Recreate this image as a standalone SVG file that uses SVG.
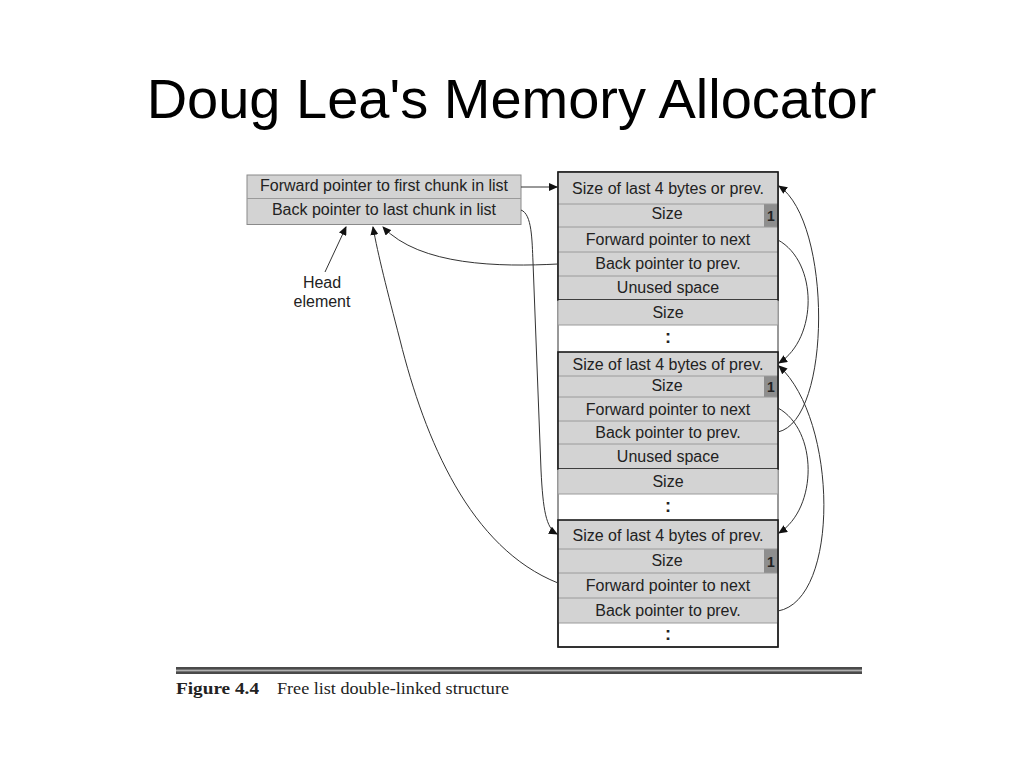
<svg xmlns="http://www.w3.org/2000/svg" width="1023" height="767" viewBox="0 0 1023 767">
<style>
.t{font-family:"Liberation Sans",Arial,sans-serif;fill:#222;}
.r{font-size:16px;text-anchor:middle;}
.g{fill:#d3d3d3;}
.sep{stroke:#9a9a9a;stroke-width:1;}
.box{fill:none;stroke:#1a1a1a;stroke-width:1.6;}
.one{fill:#8e8e8e;}
.n1{font-size:14px;font-weight:bold;text-anchor:middle;}
.c{fill:none;stroke:#333;stroke-width:1;}
.col{font-size:18px;font-weight:bold;text-anchor:middle;}
</style>
<defs>
<marker id="ah" markerWidth="9" markerHeight="8" refX="8" refY="4" orient="auto" markerUnits="userSpaceOnUse">
<path d="M0,0 L9,4 L0,8 Z" fill="#111"/>
</marker>
</defs>
<rect width="1023" height="767" fill="#fff"/>
<text class="t" x="511.5" y="118" font-size="56" text-anchor="middle" style="fill:#000">Doug Lea's Memory Allocator</text>

<g id="head">
<rect x="247" y="175" width="274" height="49.5" class="g" stroke="#8a8a8a" stroke-width="1"/>
<line x1="247" y1="198.5" x2="521" y2="198.5" class="sep"/>
<text class="t r" x="384" y="191">Forward pointer to first chunk in list</text>
<text class="t r" x="384" y="214.5">Back pointer to last chunk in list</text>
</g>
<g id="head-label">
<text class="t r" x="322" y="287.5">Head</text>
<text class="t r" x="322" y="307">element</text>
</g>

<g id="column">
<rect x="558" y="172" width="220" height="475" fill="#fff" stroke="#333" stroke-width="1"/>
</g>

<g id="chunk1">
<rect x="558" y="172" width="220" height="128" class="g"/>
<rect x="764" y="204" width="14" height="23" class="one"/>
<line x1="558" y1="204" x2="778" y2="204" class="sep"/>
<line x1="558" y1="227" x2="778" y2="227" class="sep"/>
<line x1="558" y1="252" x2="778" y2="252" class="sep"/>
<line x1="558" y1="276" x2="778" y2="276" class="sep"/>
<rect x="558" y="172" width="220" height="128" class="box"/>
<text class="t r" x="668" y="193.5">Size of last 4 bytes or prev.</text>
<text class="t r" x="667" y="219">Size</text>
<text class="t n1" x="771" y="220.5">1</text>
<text class="t r" x="668" y="244.5">Forward pointer to next</text>
<text class="t r" x="668" y="268.5">Back pointer to prev.</text>
<text class="t r" x="668" y="292.5">Unused space</text>
</g>
<g id="gap1">
<rect x="558.5" y="300" width="219" height="25" class="g"/>
<line x1="558" y1="325" x2="778" y2="325" class="sep"/>
<text class="t r" x="668" y="317.5">Size</text>
<text class="t col" x="668" y="343">:</text>
</g>

<g id="chunk2">
<rect x="558" y="352" width="220" height="117" class="g"/>
<rect x="764" y="376" width="14" height="21" class="one"/>
<line x1="558" y1="376" x2="778" y2="376" class="sep"/>
<line x1="558" y1="397" x2="778" y2="397" class="sep"/>
<line x1="558" y1="421" x2="778" y2="421" class="sep"/>
<line x1="558" y1="444" x2="778" y2="444" class="sep"/>
<rect x="558" y="352" width="220" height="117" class="box"/>
<text class="t r" x="668" y="370">Size of last 4 bytes of prev.</text>
<text class="t r" x="667" y="391">Size</text>
<text class="t n1" x="771" y="391.5">1</text>
<text class="t r" x="668" y="414.5">Forward pointer to next</text>
<text class="t r" x="668" y="438">Back pointer to prev.</text>
<text class="t r" x="668" y="462">Unused space</text>
</g>
<g id="gap2">
<rect x="558.5" y="469" width="219" height="25" class="g"/>
<line x1="558" y1="494" x2="778" y2="494" class="sep"/>
<text class="t r" x="668" y="486.5">Size</text>
<text class="t col" x="668" y="512">:</text>
</g>

<g id="chunk3">
<rect x="558" y="520" width="220" height="103" class="g"/>
<rect x="764" y="549" width="14" height="24" class="one"/>
<line x1="558" y1="549" x2="778" y2="549" class="sep"/>
<line x1="558" y1="573" x2="778" y2="573" class="sep"/>
<line x1="558" y1="598" x2="778" y2="598" class="sep"/>
<line x1="558" y1="623" x2="778" y2="623" class="sep"/>
<rect x="558" y="520" width="220" height="127" class="box"/>
<text class="t r" x="668" y="540.5">Size of last 4 bytes of prev.</text>
<text class="t r" x="667" y="566">Size</text>
<text class="t n1" x="771" y="566.5">1</text>
<text class="t r" x="668" y="591">Forward pointer to next</text>
<text class="t r" x="668" y="615.5">Back pointer to prev.</text>
<text class="t col" x="668" y="640">:</text>
</g>

<g id="connectors">
<path class="c" d="M521,187 L557,187" marker-end="url(#ah)"/>
<path class="c" d="M521,210 C532,214 532,240 533,262 L541,470 C543,510 546,528 557,534" marker-end="url(#ah)"/>
<path class="c" d="M558,264 C500,267 420,266 383,227" marker-end="url(#ah)"/>
<path class="c" d="M558,583 C470,548 425,440 400,340 C387,290 378,255 373,227" marker-end="url(#ah)"/>
<path class="c" d="M325,272 L346,227" marker-end="url(#ah)"/>
<path class="c" d="M778,240 C818,262 818,338 779,363" marker-end="url(#ah)"/>
<path class="c" d="M778,432 C832,420 832,222 779,186" marker-end="url(#ah)"/>
<path class="c" d="M778,408 C818,430 818,508 779,533" marker-end="url(#ah)"/>
<path class="c" d="M778,611 C840,600 838,420 779,366" marker-end="url(#ah)"/>
</g>

<g id="caption">
<rect x="176" y="667" width="686" height="7" fill="#4a4a4a"/>
<rect x="176" y="669.6" width="686" height="1.8" fill="#b0b0b0"/>
<text x="176" y="693.5" font-family="Liberation Serif,serif" font-weight="bold" font-size="16" textLength="83" lengthAdjust="spacingAndGlyphs" fill="#222">Figure 4.4</text>
<text x="277" y="693.5" font-family="Liberation Serif,serif" font-size="16" textLength="232" lengthAdjust="spacingAndGlyphs" fill="#222">Free list double-linked structure</text>
</g>
</svg>
